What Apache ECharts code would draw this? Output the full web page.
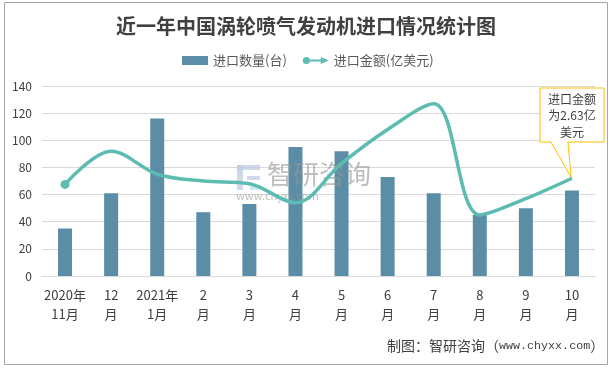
<!DOCTYPE html>
<html><head><meta charset="utf-8">
<style>html,body{margin:0;padding:0;background:#fff}#c{width:612px;height:368px}</style>
<script src="https://cdn.jsdelivr.net/npm/echarts@6/dist/echarts.min.js"></script>
</head><body><div id="c"></div>
<script>
const categories = ['2020年\n11月','12\n月','2021年\n1月','2\n月','3\n月','4\n月','5\n月','6\n月','7\n月','8\n月','9\n月','10\n月'];
const quantity = [35,61,116,47,53,95,92,73,61,45,50,63];
const amount = [67.5,92,75,70,68,54,83,108,127,45,57,72];
const yTicks = {min:0,max:140,interval:20};
const F = '"Noto Sans CJK SC","Liberation Sans",sans-serif';
const chart = echarts.init(document.getElementById('c'),null,{renderer:'canvas'});
const wm = 'rgba(150,150,150,0.62)';
chart.setOption({
  animation:false,
  backgroundColor:'#fff',
  graphic:[
    {type:'rect',x:4.5,y:2.5,shape:{x:0,y:0,width:603,height:362},style:{fill:'none',stroke:'#a6a6a6',lineWidth:1},silent:true,z:0},
    {type:'text',x:387,y:339,z:5,style:{text:'{a|制图：智研咨询（}{b|www.chyxx.com}{a|）}',rich:{a:{font:'14px '+F,fill:'#404040'},b:{font:'11.7px "Liberation Mono",monospace',fill:'#404040'}}}},
    {type:'rect',x:237,y:165,shape:{x:0,y:0,width:23,height:5},style:{fill:'rgba(190,205,228,0.75)'},z:2.5},
    {type:'rect',x:237,y:165,shape:{x:0,y:0,width:6,height:25},style:{fill:'rgba(190,205,228,0.75)'},z:2.5},
    {type:'rect',x:247,y:176,shape:{x:0,y:0,width:13,height:4},style:{fill:'rgba(190,205,228,0.75)'},z:2.5},
    {type:'rect',x:250,y:185,shape:{x:0,y:0,width:10,height:5},style:{fill:'rgba(190,225,235,0.75)'},z:2.5},
    {type:'text',x:267,y:161,z:2.5,style:{text:'智研咨询',font:'26px '+F,fill:wm,letterSpacing:3.5}},
    {type:'text',x:236,y:190,z:2.5,style:{text:'www.chyxx.com',font:'11px '+F,fill:wm,letterSpacing:4.4}},
    {type:'polyline',x:540,y:88,z:6,shape:{points:[[0,0],[64,0],[64,54],[28,54],[31,89],[11,54],[0,54],[0,0]]},style:{fill:'#fff',stroke:'#ffc000',lineWidth:1}},
    {type:'text',x:572,y:91,z:7,style:{text:'进口金额\n为2.63亿\n美元',font:'12px '+F,fill:'#404040',align:'center',lineHeight:16.5}}
  ],
  title:{text:'近一年中国涡轮喷气发动机进口情况统计图',left:'center',top:11,textStyle:{fontFamily:F,fontSize:20,fontWeight:'bold',color:'#404040'}},
  legend:{top:49,left:177,itemGap:16,itemWidth:26,itemHeight:9,textStyle:{fontFamily:F,fontSize:13,color:'#595959'},
    data:[{name:'进口数量(台)',icon:'rect'},{name:'进口金额(亿美元)',icon:'path://M0,4 A4,4 0 1 1 8,4 A4,4 0 1 1 0,4 Z M8,3 H20 V5 H8 Z M20,0 L29,4 L20,8 Z'}]},
  grid:{left:42,right:17,top:86,bottom:92},
  xAxis:{type:'category',data:categories,axisTick:{show:false},axisLine:{lineStyle:{color:'#d9d9d9',width:1}},
    axisLabel:{interval:0,margin:10,fontFamily:F,fontSize:13,color:'#404040',lineHeight:19}},
  yAxis:{type:'value',min:yTicks.min,max:yTicks.max,interval:yTicks.interval,axisLine:{show:false},axisTick:{show:false},
    splitLine:{lineStyle:{color:'#d9d9d9',width:1}},axisLabel:{margin:10,fontFamily:F,fontSize:12,color:'#404040'}},
  series:[
    {name:'进口数量(台)',type:'bar',data:quantity,barWidth:14,itemStyle:{color:'#5b8ea6'},z:2},
    {name:'进口金额(亿美元)',type:'line',data:amount,smooth:0.35,symbol:'none',lineStyle:{color:'#5cbcb2',width:3.5},itemStyle:{color:'#5cbcb2'},z:3,
     markPoint:{symbol:'circle',symbolSize:9,silent:true,label:{show:false},itemStyle:{color:'#5cbcb2'},data:[{coord:[0,amount[0]]}]}}
  ]
});
</script></body></html>
